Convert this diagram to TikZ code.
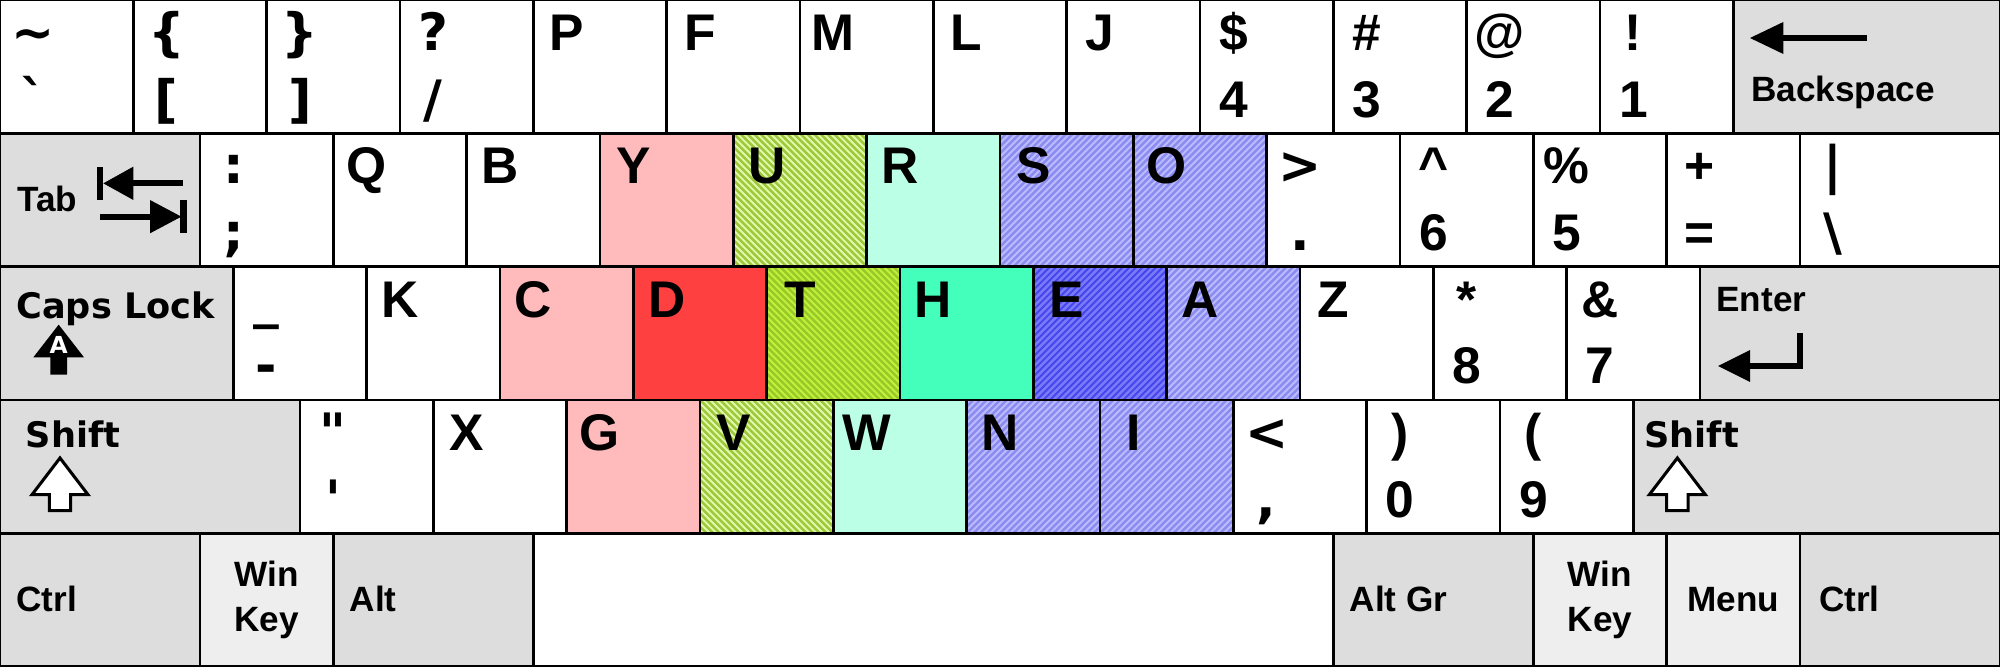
\documentclass[tikz,border=0pt]{standalone}
\usepackage{fontspec}
\newfontfamily\libf{Liberation Sans}
\newfontfamily\dejf{DejaVu Sans}
\newcommand\symf{\dejf\bfseries\fontsize{22}{24}\selectfont}
\definecolor{modgray}{HTML}{DDDDDD}
\definecolor{wingray}{HTML}{EEEEEE}
\definecolor{pinkk}{HTML}{FFBBBB}
\definecolor{redk}{HTML}{FF4040}
\definecolor{mintk}{HTML}{BBFFE6}
\definecolor{tealk}{HTML}{44FFBB}
\definecolor{glight}{HTML}{E2F9AC}
\definecolor{gstripe}{HTML}{9CC83A}
\definecolor{gbright}{HTML}{C0F23C}
\definecolor{gstripe2}{HTML}{99C828}
\definecolor{blight}{HTML}{BBBBFF}
\definecolor{bstripe}{HTML}{8C8CF0}
\definecolor{bdark}{HTML}{4646EE}
\definecolor{bstripe2}{HTML}{7A7AF8}
\tikzset{
  keybox/.style={draw=black,line width=1.2pt,rectangle,inner sep=0pt,outer sep=0pt,minimum height=2cm},
  plainkey/.style={fill=white},
  modkey/.style={fill=modgray},
  litekey/.style={fill=wingray},
  pinkkey/.style={fill=pinkk},
  redkey/.style={fill=redk},
  mintkey/.style={fill=mintk},
  tealkey/.style={fill=tealk},
  gkey/.style={fill=glight},
  gdkey/.style={fill=gbright},
  bkey/.style={fill=blight},
  bdkey/.style={fill=bdark},
  stripe/.style={line width=1.05pt,line cap=butt},
  legend/.style={inner sep=0pt,anchor=base,font=\libf\bfseries\fontsize{22}{24}\selectfont},
  modlab/.style={inner sep=0pt,anchor=base west,font=\libf\bfseries\fontsize{15}{17}\selectfont},
  dvlab/.style={inner sep=0pt,anchor=base west,font=\dejf\bfseries\fontsize{15}{17}\selectfont},
  icon/.style={fill=black},
  hollow/.style={draw=black,line width=1.3pt,fill=white,line join=miter},
}
\newcommand\keyat[5]{\node[keybox,#5,minimum width={#4*2cm}] (#1) at ({#2+#4/2},{#3+0.5}) {};}
\newcommand\legup[2]{\node[legend] (#1u) at ([shift={(0.25,0.38)}]#1.north west) {#2};}
\newcommand\legdn[2]{\node[legend] (#1d) at ([shift={(0.25,0.88)}]#1.north west) {#2};}
\newcommand\Kone[6]{\keyat{#1}{#2}{#3}{#4}{#5}\legup{#1}{#6}}
\newcommand\Ktwo[7]{\keyat{#1}{#2}{#3}{#4}{#5}\legup{#1}{#6}\legdn{#1}{#7}}
% back-slash stripes (top-left to bottom-right)
\newcommand\hatchbk[2]{%
  \begin{scope}
    \clip (#1.north west) rectangle (#1.south east);
    \foreach \t in {-1.05,-1,...,1.05} {\draw[stripe,#2] ([xshift=\t*2cm]#1.north west) -- ++(1,1);}
  \end{scope}
  \draw[line width=1.2pt] (#1.north west) rectangle (#1.south east);}
% forward-slash stripes (bottom-left to top-right)
\newcommand\hatchfw[2]{%
  \begin{scope}
    \clip (#1.north west) rectangle (#1.south east);
    \foreach \t in {-1.05,-1,...,1.05} {\draw[stripe,#2] ([xshift=\t*2cm]#1.south west) -- ++(1,-1);}
  \end{scope}
  \draw[line width=1.2pt] (#1.north west) rectangle (#1.south east);}
\begin{document}
\begin{tikzpicture}[x=2cm,y=-2cm]
\useasboundingbox (0,0) rectangle (15,5);
% hatched keys first (stripes, then legends on top)
\keyat{kU}{5.5}{1}{1}{gkey}\hatchbk{kU}{gstripe}
\keyat{kV}{5.25}{3}{1}{gkey}\hatchbk{kV}{gstripe}
\keyat{kT}{5.75}{2}{1}{gdkey}\hatchbk{kT}{gstripe2}
\keyat{kS}{7.5}{1}{1}{bkey}\hatchfw{kS}{bstripe}
\keyat{kO}{8.5}{1}{1}{bkey}\hatchfw{kO}{bstripe}
\keyat{kA}{8.75}{2}{1}{bkey}\hatchfw{kA}{bstripe}
\keyat{kN}{7.25}{3}{1}{bkey}\hatchfw{kN}{bstripe}
\keyat{kI}{8.25}{3}{1}{bkey}\hatchfw{kI}{bstripe}
\keyat{kE}{7.75}{2}{1}{bdkey}\hatchfw{kE}{bstripe2}
\legup{kU}{U}\legup{kV}{V}\legup{kT}{T}\legup{kS}{S}\legup{kO}{O}
\legup{kA}{A}\legup{kN}{N}\legup{kI}{I}\legup{kE}{E}
% row 0
\Ktwo{k00}{0}{0}{1}{plainkey}{\symf\textasciitilde}{\symf\textasciigrave}
\Ktwo{k01}{1}{0}{1}{plainkey}{\symf\{}{\symf[}
\Ktwo{k02}{2}{0}{1}{plainkey}{\symf\}}{\symf]}
\Ktwo{k03}{3}{0}{1}{plainkey}{\symf ?}{\symf /}
\Kone{kP}{4}{0}{1}{plainkey}{P}
\Kone{kF}{5}{0}{1}{plainkey}{F}
\Kone{kM}{6}{0}{1}{plainkey}{M}
\Kone{kL}{7}{0}{1}{plainkey}{L}
\Kone{kJ}{8}{0}{1}{plainkey}{J}
\Ktwo{k09}{9}{0}{1}{plainkey}{\$}{4}
\Ktwo{k10}{10}{0}{1}{plainkey}{\#}{3}
\Ktwo{k11}{11}{0}{1}{plainkey}{@}{2}
\Ktwo{k12}{12}{0}{1}{plainkey}{!}{1}
\keyat{bksp}{13}{0}{2}{modkey}
% row 1
\keyat{tab}{0}{1}{1.5}{modkey}
\Ktwo{k15}{1.5}{1}{1}{plainkey}{\symf :}{\symf ;}
\Kone{kQ}{2.5}{1}{1}{plainkey}{Q}
\Kone{kB}{3.5}{1}{1}{plainkey}{B}
\Kone{kY}{4.5}{1}{1}{pinkkey}{Y}
\Kone{kR}{6.5}{1}{1}{mintkey}{R}
\Ktwo{kgt}{9.5}{1}{1}{plainkey}{\symf >}{\symf .}
\Ktwo{k6}{10.5}{1}{1}{plainkey}{\textasciicircum}{6}
\Ktwo{k5}{11.5}{1}{1}{plainkey}{\%}{5}
\Ktwo{keq}{12.5}{1}{1}{plainkey}{+}{=}
\Ktwo{kbsl}{13.5}{1}{1.5}{plainkey}{\symf\textbar}{\symf\textbackslash}
% row 2
\keyat{caps}{0}{2}{1.75}{modkey}
\Ktwo{kmin}{1.75}{2}{1}{plainkey}{\symf\_}{\symf -}
\Kone{kK}{2.75}{2}{1}{plainkey}{K}
\Kone{kC}{3.75}{2}{1}{pinkkey}{C}
\Kone{kD}{4.75}{2}{1}{redkey}{D}
\Kone{kH}{6.75}{2}{1}{tealkey}{H}
\Kone{kZ}{9.75}{2}{1}{plainkey}{Z}
\Ktwo{k8}{10.75}{2}{1}{plainkey}{*}{8}
\Ktwo{k7}{11.75}{2}{1}{plainkey}{\&}{7}
\keyat{enter}{12.75}{2}{2.25}{modkey}
% row 3
\keyat{lshift}{0}{3}{2.25}{modkey}
\Ktwo{kquo}{2.25}{3}{1}{plainkey}{\symf\textquotedbl}{\symf\textquotesingle}
\Kone{kX}{3.25}{3}{1}{plainkey}{X}
\Kone{kG}{4.25}{3}{1}{pinkkey}{G}
\Kone{kW}{6.25}{3}{1}{mintkey}{W}
\Ktwo{klt}{9.25}{3}{1}{plainkey}{\symf <}{\symf ,}
\Ktwo{k0}{10.25}{3}{1}{plainkey}{)}{0}
\Ktwo{k9}{11.25}{3}{1}{plainkey}{(}{9}
\keyat{rshift}{12.25}{3}{2.75}{modkey}
% row 4
\keyat{lctrl}{0}{4}{1.5}{modkey}
\keyat{lwin}{1.5}{4}{1}{litekey}
\keyat{lalt}{2.5}{4}{1.5}{modkey}
\keyat{space}{4}{4}{6}{plainkey}
\keyat{altgr}{10}{4}{1.5}{modkey}
\keyat{rwin}{11.5}{4}{1}{litekey}
\keyat{menu}{12.5}{4}{1}{litekey}
\keyat{rctrl}{13.5}{4}{1.5}{modkey}
% modifier labels
\node[modlab] (bkspt) at ([shift={(0.13,0.76)}]bksp.north west) {Backspace};
\node[modlab] (tabt) at ([shift={(0.125,0.59)}]tab.north west) {Tab};
\node[dvlab] (capst) at ([shift={(0.12,0.39)}]caps.north west) {Caps Lock};
\node[modlab] (entert) at ([shift={(0.12,0.34)}]enter.north west) {Enter};
\node[dvlab] (lshiftt) at ([shift={(0.19,0.36)}]lshift.north west) {Shift};
\node[dvlab] (rshiftt) at ([shift={(0.08,0.36)}]rshift.north west) {Shift};
\node[modlab] (lctrlt) at ([shift={(0.12,0.59)}]lctrl.north west) {Ctrl};
\node[modlab,anchor=base] (lwint1) at ([shift={(0.5,0.4)}]lwin.north west) {Win};
\node[modlab,anchor=base] (lwint2) at ([shift={(0.5,0.735)}]lwin.north west) {Key};
\node[modlab] (laltt) at ([shift={(0.12,0.59)}]lalt.north west) {Alt};
\node[modlab] (altgrt) at ([shift={(0.12,0.59)}]altgr.north west) {Alt Gr};
\node[modlab,anchor=base] (rwint1) at ([shift={(0.5,0.4)}]rwin.north west) {Win};
\node[modlab,anchor=base] (rwint2) at ([shift={(0.5,0.735)}]rwin.north west) {Key};
\node[modlab,anchor=base] (menut) at ([shift={(0.5,0.59)}]menu.north west) {Menu};
\node[modlab] (rctrlt) at ([shift={(0.14,0.59)}]rctrl.north west) {Ctrl};
% icons
\begin{scope}[shift={(bksp.north west)}]
  \fill[icon] (0.125,0.285) -- (0.375,0.165) -- (0.375,0.405) -- cycle;
  \fill[icon] (0.37,0.262) rectangle (1.0,0.308);
\end{scope}
\begin{scope}[shift={(tab.north west)}]
  \fill[icon] (0.725,0.25) rectangle (0.775,0.5);
  \fill[icon] (0.775,0.375) -- (1.0,0.25) -- (1.0,0.5) -- cycle;
  \fill[icon] (0.99,0.352) rectangle (1.375,0.398);
  \fill[icon] (0.75,0.602) rectangle (1.135,0.648);
  \fill[icon] (1.36,0.625) -- (1.125,0.5) -- (1.125,0.75) -- cycle;
  \fill[icon] (1.35,0.5) rectangle (1.4,0.75);
\end{scope}
\begin{scope}[shift={(caps.north west)}]
  \fill[icon] (0.44,0.435) -- (0.63,0.68) -- (0.503,0.68) -- (0.503,0.81) -- (0.377,0.81) -- (0.377,0.68) -- (0.25,0.68) -- cycle;
  \node[white,inner sep=0pt,font=\dejf\bfseries\fontsize{10}{10}\selectfont] (capsA) at (0.44,0.59) {A};
\end{scope}
\begin{scope}[shift={(enter.north west)}]
  \fill[icon] (0.135,0.745) -- (0.375,0.625) -- (0.375,0.865) -- cycle;
  \fill[icon] (0.37,0.722) rectangle (0.775,0.768);
  \fill[icon] (0.73,0.495) rectangle (0.775,0.768);
\end{scope}
\begin{scope}[shift={(lshift.north west)}]
  \draw[hollow] (0.45,0.435) -- (0.66,0.71) -- (0.53,0.71) -- (0.53,0.83) -- (0.37,0.83) -- (0.37,0.71) -- (0.24,0.71) -- cycle;
\end{scope}
\begin{scope}[shift={(rshift.north west)}]
  \draw[hollow] (0.33,0.435) -- (0.54,0.71) -- (0.41,0.71) -- (0.41,0.83) -- (0.25,0.83) -- (0.25,0.71) -- (0.12,0.71) -- cycle;
\end{scope}
\end{tikzpicture}
\end{document}
